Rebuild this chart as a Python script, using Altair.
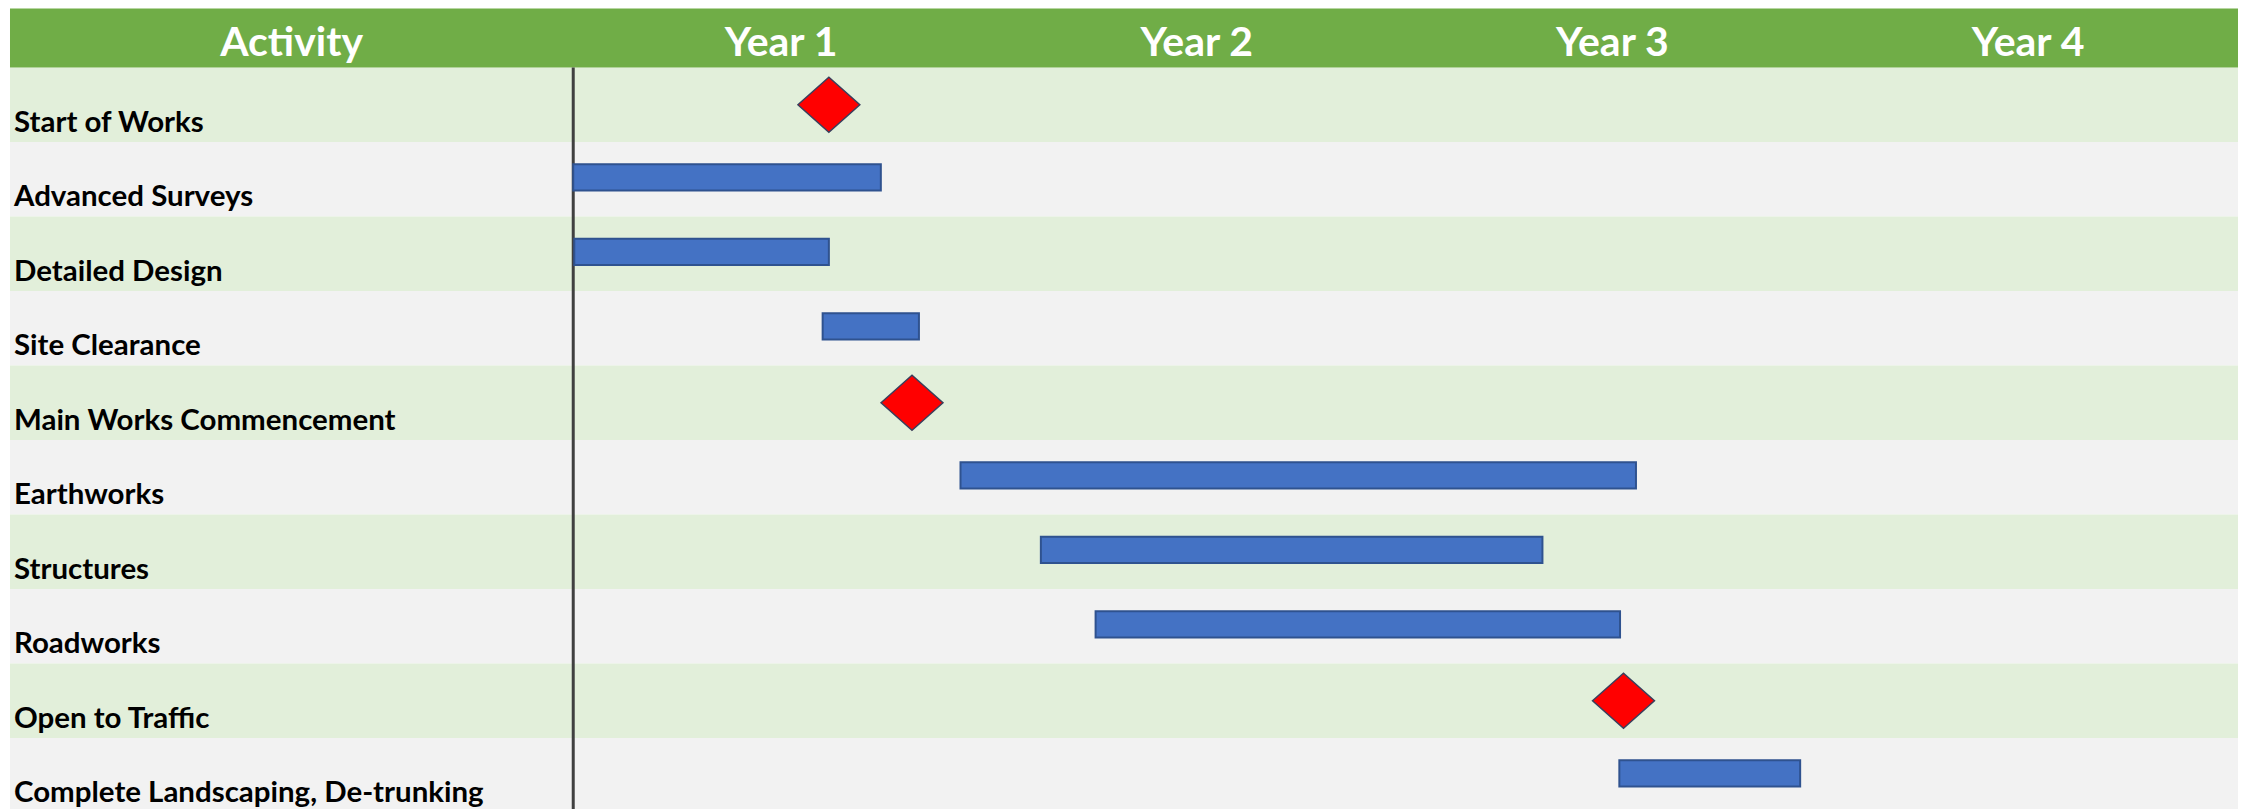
import altair as alt
import pandas as pd

# ---- data (months from project start) ----
activities = [
    "Start of Works",
    "Advanced Surveys",
    "Detailed Design",
    "Site Clearance",
    "Main Works Commencement",
    "Earthworks",
    "Structures",
    "Roadworks",
    "Open to Traffic",
    "Complete Landscaping, De-trunking",
]
task_names = ["Advanced Surveys", "Detailed Design", "Site Clearance", "Earthworks",
              "Structures", "Roadworks", "Complete Landscaping, De-trunking"]
task_start = [0.0, 0.03, 7.2, 11.18, 13.5, 15.08, 30.2]
task_end = [8.88, 7.38, 9.98, 30.68, 27.98, 30.22, 35.42]
milestone_names = ["Start of Works", "Main Works Commencement", "Open to Traffic"]
milestone_month = [7.38, 9.78, 30.32]
year_labels = ["Year 1", "Year 2", "Year 3", "Year 4"]
year_centers = [6, 18, 30, 42]
header_title = "Activity"

# ---- layout helpers ----
X_MIN, X_MAX = -16.26, 48.06
Y_MIN, Y_MAX = -0.7914, 10
W, H = 2231, 805
FONT = "Lato"

row_of = {a: i for i, a in enumerate(activities)}

rows_df = pd.DataFrame({
    "activity": activities,
    "row": list(range(len(activities))),
    "band": ["g" if i % 2 == 0 else "w" for i in range(len(activities))],
})
tasks_df = pd.DataFrame({"activity": task_names, "start": task_start, "end": task_end})
tasks_df["row"] = tasks_df["activity"].map(row_of)
ms_df = pd.DataFrame({"activity": milestone_names, "month": milestone_month})
ms_df["row"] = ms_df["activity"].map(row_of)
header_df = pd.DataFrame({"label": [header_title] + year_labels,
                          "x": [X_MIN / 2] + year_centers})

xs = alt.Scale(domain=[X_MIN, X_MAX], nice=False, zero=False)
ys = alt.Scale(domain=[Y_MIN, Y_MAX], nice=False, zero=False, reverse=True)

bands = alt.Chart(rows_df).transform_calculate(
    y2="datum.row + 1"
).mark_rect().encode(
    x=alt.value(0), x2=alt.value(W),
    y=alt.Y("row:Q", scale=ys, axis=None),
    y2="y2:Q",
    color=alt.Color("band:N", scale=alt.Scale(domain=["g", "w"], range=["#E2EFDA", "#F2F2F2"]), legend=None),
)

header_bg = alt.Chart(pd.DataFrame({"a": [Y_MIN], "b": [0]})).mark_rect(color="#70AD47").encode(
    x=alt.value(0), x2=alt.value(W),
    y=alt.Y("a:Q", scale=ys, axis=None), y2="b:Q",
)

header_txt = alt.Chart(header_df).transform_calculate(yy="-0.16").mark_text(
    font=FONT, fontSize=41, fontWeight="bold", color="white", align="center", baseline="alphabetic"
).encode(
    x=alt.X("x:Q", scale=xs, axis=None),
    y=alt.Y("yy:Q", scale=ys, axis=None),
    text="label:N",
)

labels = alt.Chart(rows_df).transform_calculate(yy="datum.row + 0.86").mark_text(
    font=FONT, fontSize=29.5, fontWeight="bold", color="#000000", align="left", baseline="alphabetic"
).encode(
    x=alt.value(4),
    y=alt.Y("yy:Q", scale=ys, axis=None),
    text="activity:N",
)

vline = alt.Chart(pd.DataFrame({"x": [0], "a": [0], "b": [10]})).mark_rule(
    color="#404040", strokeWidth=3
).encode(
    x=alt.X("x:Q", scale=xs, axis=None),
    y=alt.Y("a:Q", scale=ys, axis=None), y2="b:Q",
)

bars = alt.Chart(tasks_df).transform_calculate(
    y1="datum.row + 0.3", y2="datum.row + 0.65"
).mark_rect(color="#4472C4", stroke="#2F528F", strokeWidth=2).encode(
    x=alt.X("start:Q", scale=xs, axis=None), x2="end:Q",
    y=alt.Y("y1:Q", scale=ys, axis=None), y2="y2:Q",
)

diamonds = alt.Chart(ms_df).transform_calculate(yy="datum.row + 0.5").mark_point(
    shape="M-1,0L0,-0.89L1,0L0,0.89Z", filled=True, size=3844,
    fill="#FF0000", stroke="#3A3F5C", strokeWidth=1.5, opacity=1
).encode(
    x=alt.X("month:Q", scale=xs, axis=None),
    y=alt.Y("yy:Q", scale=ys, axis=None),
)

chart = alt.layer(bands, header_bg, header_txt, labels, vline, bars, diamonds).properties(
    width=W, height=H,
    padding={"left": 2, "top": 0, "right": 0, "bottom": 0},
    autosize=alt.AutoSizeParams(type="none"),
    background="white",
).configure_view(stroke=None)

chart.save("out.html", embed_options={"renderer": "svg", "actions": False})
